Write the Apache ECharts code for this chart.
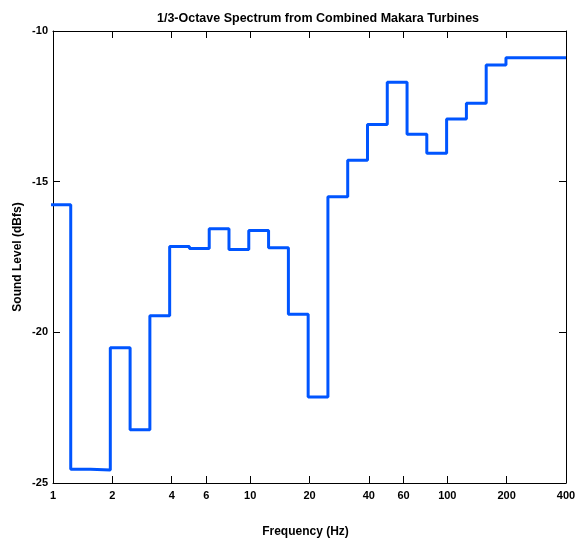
<!DOCTYPE html>
<html><head><meta charset="utf-8">
<script src="https://cdn.jsdelivr.net/npm/echarts@6/dist/echarts.min.js"></script>
<style>html,body{margin:0;padding:0;background:#fff}#c{width:579px;height:538px}</style>
</head><body><div id="c"></div>
<script>
// band start frequencies (Hz) for the stair steps, last entry closes the plot at 400 Hz
const freqs = [0.977, 1.23, 1.55, 1.953, 2.461, 3.10, 3.906, 4.92, 6.20, 7.81, 9.84, 12.4, 15.63, 19.69, 24.8, 31.25, 39.37, 49.6, 62.5, 78.7, 99.2, 125, 157.5, 198.4, 400];
const levels = [-15.77, -24.54, -24.57, -20.51, -23.23, -19.45, -17.15, -17.22, -16.56, -17.25, -16.62, -17.19, -19.40, -22.15, -15.50, -14.29, -13.10, -11.70, -13.43, -14.06, -12.92, -12.40, -11.13, -10.89, -10.89];
const xTicks = [1, 2, 4, 6, 10, 20, 40, 60, 100, 200, 400];

const font = 'Liberation Sans, Arial, Helvetica, sans-serif';
const chart = echarts.init(document.getElementById('c'), null, {renderer: 'canvas'});
const line = {show: true, onZero: false, lineStyle: {color: '#000', width: 1}};
const xBase = {
  type: 'log', logBase: 10, min: 1, max: 400,
  axisLine: line, splitLine: {show: false}, minorTick: {show: false},
  axisTick: {show: true, inside: true, length: 7, customValues: xTicks, lineStyle: {color: '#000'}},
};
chart.setOption({
  animation: false,
  title: {text: '1/3-Octave Spectrum from Combined Makara Turbines', left: 313, top: 7, textAlign: 'center',
    textStyle: {fontFamily: font, fontSize: 12.5, fontWeight: 'bold', color: '#000'}},
  grid: {left: 53, top: 31, right: 13, bottom: 55, containLabel: false, outerBoundsMode: 'none'},
  xAxis: [
    Object.assign({}, xBase, {position: 'bottom', name: 'Frequency (Hz)', nameLocation: 'middle', nameGap: 43,
      nameMoveOverlap: false,
      nameTextStyle: {fontFamily: font, fontSize: 12, fontWeight: 'bold', color: '#000', padding: [0, 8, 0, 0]},
      axisLabel: {show: true, customValues: xTicks, margin: 7, fontFamily: font, fontSize: 11, fontWeight: 'bold', color: '#000',
        formatter: v => String(Math.round(v)), hideOverlap: false, showMinLabel: true, showMaxLabel: true}}),
    Object.assign({}, xBase, {position: 'top', axisLabel: {show: false}})
  ],
  yAxis: [
    {type: 'value', min: -25, max: -10, interval: 5, position: 'left', axisLine: line,
      splitLine: {show: false},
      axisTick: {show: true, inside: true, length: 7, lineStyle: {color: '#000'}},
      axisLabel: {margin: 5, fontFamily: font, fontSize: 11, fontWeight: 'bold', color: '#000'},
      name: 'Sound Level (dBfs)', nameLocation: 'middle', nameGap: 29, nameRotate: 90, nameMoveOverlap: false,
      nameTextStyle: {fontFamily: font, fontSize: 12, fontWeight: 'bold', color: '#000'}},
    {type: 'value', min: -25, max: -10, interval: 5, position: 'right', axisLine: line,
      splitLine: {show: false},
      axisTick: {show: true, inside: true, length: 7, lineStyle: {color: '#000'}},
      axisLabel: {show: false}}
  ],
  series: [{
    type: 'line', step: 'end', xAxisIndex: 0, yAxisIndex: 0, clip: true,
    data: freqs.map((f, i) => [f, levels[i]]),
    symbol: 'none', lineStyle: {color: '#0055ff', width: 3}
  }]
});
</script></body></html>
